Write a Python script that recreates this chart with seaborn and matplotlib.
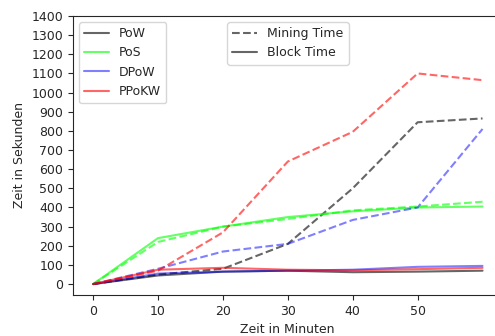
import pandas as pd
import matplotlib
matplotlib.use('Agg')
import matplotlib.pyplot as plt
from matplotlib.lines import Line2D
import seaborn as sns

sns.set_style('ticks')
plt.rcParams['font.family'] = ['DejaVu Sans']

minutes = [0, 10, 20, 30, 40, 50, 60]
protocols = ['PoW', 'PoS', 'DPoW', 'PPoKW']
colors = {'PoW': 'black', 'PoS': 'lime', 'DPoW': 'blue', 'PPoKW': 'red'}
alphas = {'PoW': 0.6, 'PoS': 0.6, 'DPoW': 0.5, 'PPoKW': 0.6}

# Mining time (dashed) in seconds
mining = {
    'PoW':   [0, 50, 80, 210, 500, 845, 865],
    'PoS':   [0, 220, 300, 340, 385, 405, 430],
    'DPoW':  [0, 80, 170, 210, 335, 400, 810],
    'PPoKW': [0, 70, 270, 640, 795, 1100, 1065],
}
# Block time (solid) in seconds
block = {
    'PoW':   [0, 45, 65, 70, 62, 65, 70],
    'PoS':   [0, 240, 300, 350, 380, 400, 405],
    'DPoW':  [0, 55, 65, 70, 75, 90, 95],
    'PPoKW': [0, 75, 85, 75, 72, 78, 85],
}

fig = plt.figure(figsize=(4.95, 3.36), dpi=100)
ax = fig.add_axes([73 / 495, 41 / 336, (502 - 73) / 495, 279 / 336])

for p in protocols:
    df = pd.DataFrame({'min': minutes, 'mining': mining[p], 'block': block[p]})
    sns.lineplot(data=df, x='min', y='mining', ax=ax, color=colors[p],
                 alpha=alphas[p], linestyle='--', lw=1.5, legend=False)
    sns.lineplot(data=df, x='min', y='block', ax=ax, color=colors[p],
                 alpha=alphas[p], linestyle='-', lw=1.5, legend=False)

ax.spines['right'].set_visible(False)
ax.set_xlim(-3.1, 63)
ax.set_ylim(-57, 1400)
ax.set_xticks([0, 10, 20, 30, 40, 50])
ax.set_yticks(range(0, 1401, 100))
ax.tick_params(labelsize=9)
ax.set_xlabel('Zeit in Minuten', fontsize=9)
ax.set_ylabel('Zeit in Sekunden', fontsize=9)

h1 = [Line2D([], [], color=colors[p], alpha=alphas[p], lw=1.5) for p in protocols]
leg1 = ax.legend(h1, protocols, loc='upper left', fontsize=9)
ax.add_artist(leg1)
h2 = [Line2D([], [], color='black', alpha=0.6, lw=1.5, ls='--'),
      Line2D([], [], color='black', alpha=0.6, lw=1.5, ls='-')]
ax.legend(h2, ['Mining Time', 'Block Time'], loc='upper left',
          bbox_to_anchor=(0.345, 1.0), fontsize=9)

fig.savefig('out.png', dpi=100)
